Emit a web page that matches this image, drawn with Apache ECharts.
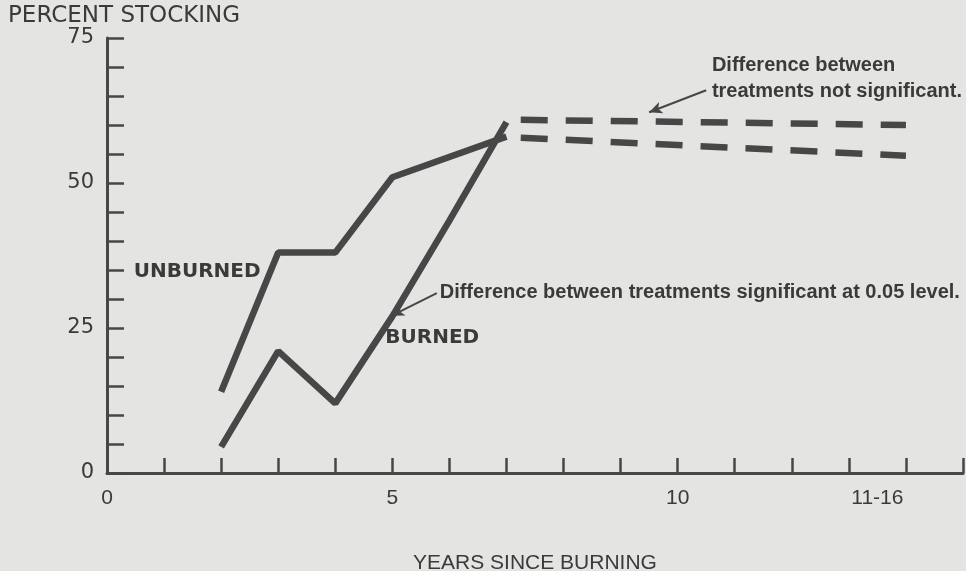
<!DOCTYPE html>
<html>
<head>
<meta charset="utf-8">
<script src="https://cdn.jsdelivr.net/npm/echarts@6/dist/echarts.min.js"></script>
<style>
  html, body { margin: 0; padding: 0; background: #e4e4e2; }
  #chart { width: 966px; height: 571px; }
</style>
</head>
<body>
<div id="chart"></div>
<script>
// values
const unburnedX = [2, 3, 4, 5, 7]
const unburnedY = [14, 38, 38, 51, 58]
const burnedX = [2, 3, 4, 5, 6, 7]
const burnedY = [4.5, 21, 12, 27, 43.5, 60.5]
const laterX = [7.25, 14]              // 11-16 years, dashed part
const unburnedLaterY = [57.8, 54.7]
const burnedLaterY = [60.9, 60]

const yLabelValues = [0, 25, 50, 75]
const xTickValues = [1, 2, 3, 4, 5, 6, 7, 8, 9, 10, 11, 12, 13, 14, 15]
const xLabelValues = [0, 5, 10, 13.5]
const xLabelText = ['0', '5', '10', '11-16']

const ink = '#474747'
const textInk = '#3a3a3a'

const pairs = (xs, ys) => xs.map((x, i) => [x, ys[i]])

const chart = echarts.init(document.getElementById('chart'))

const noteLabel = {
  color: textInk,
  fontFamily: 'Liberation Sans',
  fontWeight: 'bold',
  fontSize: 20,
  lineHeight: 26
}

chart.setOption({
  backgroundColor: '#e4e4e2',
  animation: false,
  grid: { left: 107, right: 3, top: 38, bottom: 98, containLabel: false, outerBoundsMode: 'none' },
  xAxis: {
    type: 'value',
    min: 0,
    max: 15,
    interval: 1,
    name: 'YEARS SINCE BURNING',
    nameLocation: 'middle',
    nameGap: 80,
    nameTextStyle: { color: textInk, fontSize: 21, fontFamily: 'Liberation Sans' },
    axisLine: { lineStyle: { color: ink, width: 3 } },
    axisTick: { inside: true, length: 15, customValues: xTickValues, lineStyle: { color: ink, width: 2.5 } },
    axisLabel: {
      customValues: xLabelValues,
      formatter: v => xLabelText[xLabelValues.indexOf(v)],
      color: textInk,
      fontSize: 21,
      fontFamily: 'Liberation Sans',
      margin: 15
    },
    splitLine: { show: false }
  },
  yAxis: {
    type: 'value',
    min: 0,
    max: 75,
    interval: 5,
    name: 'PERCENT STOCKING',
    nameLocation: 'end',
    nameGap: 9,
    nameTextStyle: {
      color: textInk, fontSize: 23, fontFamily: 'DejaVu Sans',
      align: 'left', padding: [0, 0, 0, -99]
    },
    axisLine: { lineStyle: { color: ink, width: 3 } },
    axisTick: { inside: true, length: 17, lineStyle: { color: ink, width: 2.5 } },
    axisLabel: {
      customValues: yLabelValues,
      color: textInk,
      fontSize: 21,
      fontFamily: 'DejaVu Sans',
      margin: 13
    },
    splitLine: { show: false }
  },
  series: [
    {
      name: 'Unburned',
      type: 'line',
      data: pairs(unburnedX, unburnedY),
      symbol: 'none',
      lineStyle: { color: ink, width: 6.5 },
      markPoint: {
        symbol: 'circle',
        symbolSize: 0,
        data: [
          { coord: [1.58, 34.7], value: 'UNBURNED' }
        ],
        label: {
          show: true, position: 'inside', formatter: '{c}',
          color: textInk, fontFamily: 'DejaVu Sans', fontWeight: 'bold', fontSize: 20
        }
      }
    },
    {
      name: 'Burned',
      type: 'line',
      data: pairs(burnedX, burnedY),
      symbol: 'none',
      lineStyle: { color: ink, width: 6.5 },
      markPoint: {
        symbol: 'circle',
        symbolSize: 0,
        data: [
          { coord: [5.7, 23.3], value: 'BURNED' }
        ],
        label: {
          show: true, position: 'inside', formatter: '{c}',
          color: textInk, fontFamily: 'DejaVu Sans', fontWeight: 'bold', fontSize: 20
        }
      },
      markLine: {
        silent: true,
        symbol: ['none', 'arrow'],
        symbolSize: [9, 13],
        label: { show: false },
        lineStyle: { color: ink, width: 2, type: 'solid' },
        data: [
          [{ coord: [5.78, 31.0] }, { coord: [4.98, 27.1] }],
          [{ coord: [10.5, 66.0] }, { coord: [9.5, 62.2] }]
        ]
      }
    },
    {
      name: 'Unburned later',
      type: 'line',
      data: pairs(laterX, unburnedLaterY),
      symbol: 'none',
      lineStyle: { color: ink, width: 6.5, type: [27, 18] }
    },
    {
      name: 'Burned later',
      type: 'line',
      data: pairs(laterX, burnedLaterY),
      symbol: 'none',
      lineStyle: { color: ink, width: 6.5, type: [27, 18] },
      markPoint: {
        symbol: 'circle',
        symbolSize: 0,
        data: [
          { coord: [5.83, 31.2], value: 'Difference between treatments significant at 0.05 level.' },
          { coord: [10.6, 68.0], value: 'Difference between\ntreatments not significant.' }
        ],
        label: Object.assign({ show: true, position: 'right', distance: 0, formatter: '{c}', align: 'left' }, noteLabel)
      }
    }
  ]
})
</script>
</body>
</html>
